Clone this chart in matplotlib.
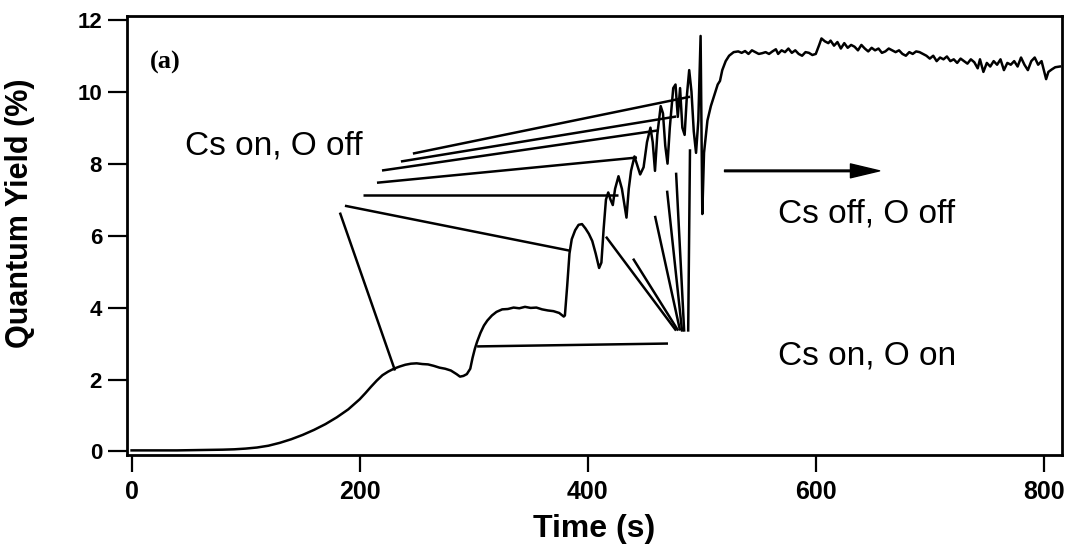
import matplotlib
matplotlib.use("Agg")
import matplotlib.pyplot as plt

# Quantum yield trace
time_s = [0, 20, 40, 60, 80, 90, 100, 110, 120, 130, 140, 150, 160, 170, 180, 190, 200, 205, 210, 215,
          220, 225, 230, 235, 240, 245, 250, 255, 260, 265, 270, 275, 280, 285, 288, 291, 294, 297, 299, 301,
          303, 306, 309, 312, 316, 320, 325, 330, 335, 340, 345, 350, 355, 360, 365, 370, 375, 379,
          380, 382, 384, 386, 389, 392, 395, 398, 401, 404, 407, 410, 412, 414, 416, 418, 420, 422, 424, 427,
          430, 432, 434, 436, 438, 441, 443, 446, 449, 452, 455, 457, 459, 461, 464, 466, 468, 470, 472, 475,
          477, 479, 481, 483, 485, 487, 489, 491, 493, 495, 497, 499, 500.5, 502, 505, 508, 511, 514, 516, 518,
          521, 524, 528, 532, 535, 538, 541, 544, 547, 550, 553, 556, 559, 562, 565, 567, 570, 573, 576, 579,
          582, 585, 588, 591, 594, 597, 600, 603, 605, 608, 611, 613, 616, 619, 622, 625, 628, 631, 634, 637,
          640, 643, 646, 649, 652, 655, 658, 661, 664, 667, 670, 673, 676, 679, 682, 685, 688, 691, 694, 697,
          700, 703, 706, 709, 712, 715, 718, 721, 724, 727, 730, 733, 736, 739, 742, 744, 747, 750, 753, 756,
          759, 762, 765, 768, 771, 774, 777, 780, 783, 786, 789, 792, 795, 798, 800, 802, 804, 807, 810, 814]
qy = [0.03, 0.03, 0.03, 0.04, 0.05, 0.06, 0.08, 0.11, 0.16, 0.24, 0.34, 0.46, 0.6, 0.76, 0.95, 1.17, 1.45, 1.62, 1.8, 1.97,
      2.12, 2.22, 2.3, 2.36, 2.41, 2.44, 2.45, 2.43, 2.42, 2.38, 2.33, 2.3, 2.25, 2.15, 2.08, 2.1, 2.15, 2.3, 2.6, 2.85,
      3.05, 3.3, 3.5, 3.64, 3.78, 3.88, 3.95, 3.96, 4.0, 3.98, 4.02, 3.99, 4.0, 3.95, 3.92, 3.9, 3.85, 3.75,
      3.78, 4.6, 5.5, 5.9, 6.15, 6.3, 6.32, 6.2, 6.05, 5.85, 5.5, 5.1, 5.25, 6.2, 7.0, 7.2, 7.0, 6.85, 7.3, 7.65,
      7.3, 6.9, 6.5, 7.3, 7.8, 8.2, 8.0, 7.7, 7.9, 8.6, 9.0, 8.6, 7.8, 8.8, 9.6, 9.4, 8.5, 8.0, 9.0, 10.1,
      10.2, 9.3, 10.1, 9.0, 8.8, 9.9, 10.6, 10.0, 8.9, 8.3, 9.2, 11.55, 6.6, 8.3, 9.2, 9.6, 9.9, 10.2, 10.3, 10.6,
      10.85, 11.0, 11.1, 11.12, 11.08, 11.13, 11.05, 11.15, 11.1, 11.05, 11.07, 11.1, 11.05, 11.12, 11.18, 11.05, 11.15, 11.1, 11.2, 11.08,
      11.15, 11.05, 11.0, 11.1, 11.08, 11.02, 11.05, 11.3, 11.48, 11.4, 11.35, 11.42, 11.28, 11.38, 11.2, 11.35, 11.22, 11.3, 11.25, 11.15,
      11.3, 11.2, 11.12, 11.22, 11.15, 11.2, 11.08, 11.12, 11.2, 11.15, 11.1, 11.15, 11.05, 11.0, 11.1, 11.05, 11.12, 11.1, 11.05, 11.0,
      10.92, 11.0, 10.85, 10.95, 10.9, 10.98, 10.85, 10.9, 10.8, 10.92, 10.85, 10.78, 10.9, 10.82, 10.65, 10.9, 10.55, 10.8, 10.7, 10.85,
      10.75, 10.9, 10.6, 10.8, 10.75, 10.85, 10.7, 10.95, 10.75, 10.6, 10.85, 10.95, 10.75, 10.85, 10.6, 10.35, 10.55, 10.62, 10.68, 10.7]

# annotation leader lines: ((t0, y0), (t1, y1))
cs_on_o_off_lines = [((246.7, 8.28), (489.7, 9.86)),
                     ((236.2, 8.06), (477.5, 9.31)),
                     ((219.6, 7.81), (460.8, 8.92)),
                     ((215.2, 7.47), (443.2, 8.17)),
                     ((202.9, 7.14), (426.6, 7.14)),
                     ((187.1, 6.83), (384.5, 5.58)),
                     ((182.7, 6.64), (231.0, 2.25))]
cs_on_o_on_lines = [((303.0, 2.92), (470.4, 3.00)),
                    ((416.0, 5.97), (477.5, 3.36)),
                    ((439.8, 5.36), (479.3, 3.36)),
                    ((459.0, 6.55), (481.0, 3.36)),
                    ((469.6, 7.25), (482.8, 3.33)),
                    ((477.5, 7.75), (484.6, 3.33)),
                    ((489.7, 8.40), (488.1, 3.33))]

plt.rcParams['font.family'] = ['Liberation Sans', 'DejaVu Sans']

fig = plt.figure(figsize=(10.81, 5.57), dpi=100)
ax = fig.add_axes([0.1175, 0.183, 0.865, 0.788])

ax.plot(time_s, qy, color='black', lw=1.8)
for (x0, y0), (x1, y1) in cs_on_o_off_lines + cs_on_o_on_lines:
    ax.plot([x0, x1], [y0, y1], color='black', lw=1.8, solid_capstyle='butt')

ax.annotate('', xy=(656, 7.8), xytext=(520, 7.8),
            arrowprops=dict(facecolor='black', edgecolor='black', width=1.2,
                            headwidth=10, headlength=21, shrink=0))

ax.text(47, 8.5, 'Cs on, O off', fontsize=24, va='center', ha='left')
ax.text(567, 6.6, 'Cs off, O off', fontsize=24, va='center', ha='left')
ax.text(567, 2.64, 'Cs on, O on', fontsize=24, va='center', ha='left')
ax.text(16, 10.8, '(a)', fontsize=19, fontweight='bold', va='center', ha='left',
        family=['Liberation Serif', 'DejaVu Serif'])

ax.set_xlim(-4, 816)
ax.set_ylim(-0.1, 12.1)
ax.set_xticks([0, 200, 400, 600, 800])
ax.set_yticks([0, 2, 4, 6, 8, 10, 12])

for s in ax.spines.values():
    s.set_linewidth(2)
ax.tick_params(axis='x', direction='out', length=12, width=1.6, pad=6, labelsize=18)
ax.tick_params(axis='y', direction='out', length=14, width=1.6, pad=4, labelsize=16)
for lab in ax.get_xticklabels() + ax.get_yticklabels():
    lab.set_fontweight('bold')

ax.set_xlabel('Time (s)', fontsize=23, fontweight='bold')
ax.set_ylabel('Quantum Yield (%)', fontsize=22, fontweight='bold')
ax.xaxis.set_label_coords(0.5, -0.135)
ax.yaxis.set_label_coords(-0.098, 0.55)

fig.savefig('out.png', dpi=100)
